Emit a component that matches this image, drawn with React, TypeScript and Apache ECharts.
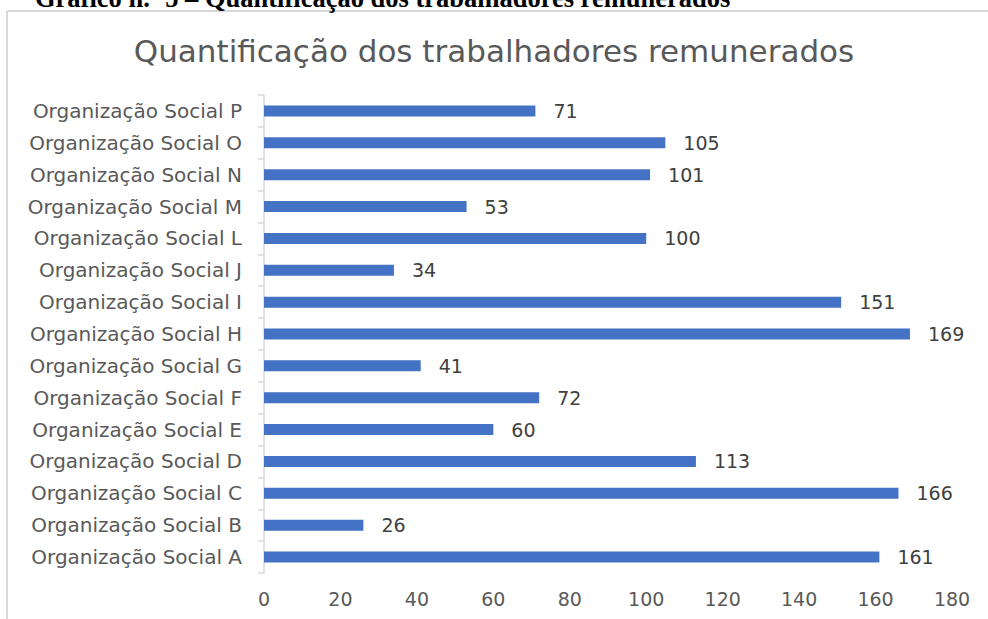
import React, { useEffect, useRef } from "react";
import * as echarts from "echarts";

const categories = [
  "Organização Social A",
  "Organização Social B",
  "Organização Social C",
  "Organização Social D",
  "Organização Social E",
  "Organização Social F",
  "Organização Social G",
  "Organização Social H",
  "Organização Social I",
  "Organização Social J",
  "Organização Social L",
  "Organização Social M",
  "Organização Social N",
  "Organização Social O",
  "Organização Social P",
];
const values = [161, 26, 166, 113, 60, 72, 41, 169, 151, 34, 100, 53, 101, 105, 71];
const xTicks = { min: 0, max: 180, interval: 20 };
const titleText = "Quantificação dos trabalhadores remunerados";
const captionText = "Gráfico n.º 5 – Quantificação dos trabalhadores remunerados";

export default function App() {
  const ref = useRef<HTMLDivElement>(null);
  useEffect(() => {
    if (!ref.current) return;
    const chart = echarts.init(ref.current, null, { renderer: "svg" });
    const font = "'DejaVu Sans', 'Open Sans', sans-serif";
    chart.setOption({
      animation: false,
      backgroundColor: "#ffffff",
      title: {
        text: titleText,
        left: "center",
        top: 30,
        textStyle: { fontFamily: font, fontSize: 31, fontWeight: "normal", color: "#595959" },
      },
      graphic: [
        {
          type: "line",
          shape: { x1: 7, y1: 11, x2: 990, y2: 11 },
          style: { stroke: "#d9d9d9", lineWidth: 2 },
        },
        {
          type: "line",
          shape: { x1: 7, y1: 11, x2: 7, y2: 625 },
          style: { stroke: "#d9d9d9", lineWidth: 2 },
        },
        {
          type: "text",
          x: 35,
          y: 11,
          style: {
            text: captionText,
            fontFamily: "'Liberation Serif', 'Times New Roman', serif",
            fontWeight: "bold",
            fontSize: 26.5,
            fill: "#000000",
            verticalAlign: "bottom",
          },
        },
      ],
      grid: { left: 264, right: 36, top: 95, bottom: 46, containLabel: false },
      xAxis: {
        type: "value",
        min: xTicks.min,
        max: xTicks.max,
        interval: xTicks.interval,
        splitLine: { show: false },
        axisLine: { show: false },
        axisTick: { show: false },
        axisLabel: { fontFamily: font, fontSize: 19, color: "#595959", margin: 16 },
      },
      yAxis: {
        type: "category",
        data: categories,
        axisLine: { show: true, lineStyle: { color: "#d9d9d9", width: 1.5 } },
        axisTick: { show: true, length: 6, lineStyle: { color: "#d9d9d9", width: 1.5 } },
        axisLabel: { fontFamily: font, fontSize: 20, color: "#595959", margin: 22 },
      },
      series: [
        {
          type: "bar",
          data: values,
          barWidth: 11,
          itemStyle: { color: "#4472C4" },
          label: {
            show: true,
            position: "right",
            distance: 18,
            fontFamily: font,
            fontSize: 19,
            color: "#404040",
          },
        },
      ],
    });
    return () => chart.dispose();
  }, []);
  return (
    <div
      ref={ref}
      style={{ position: "absolute", left: 0, top: 0, width: 988, height: 619 }}
    />
  );
}
